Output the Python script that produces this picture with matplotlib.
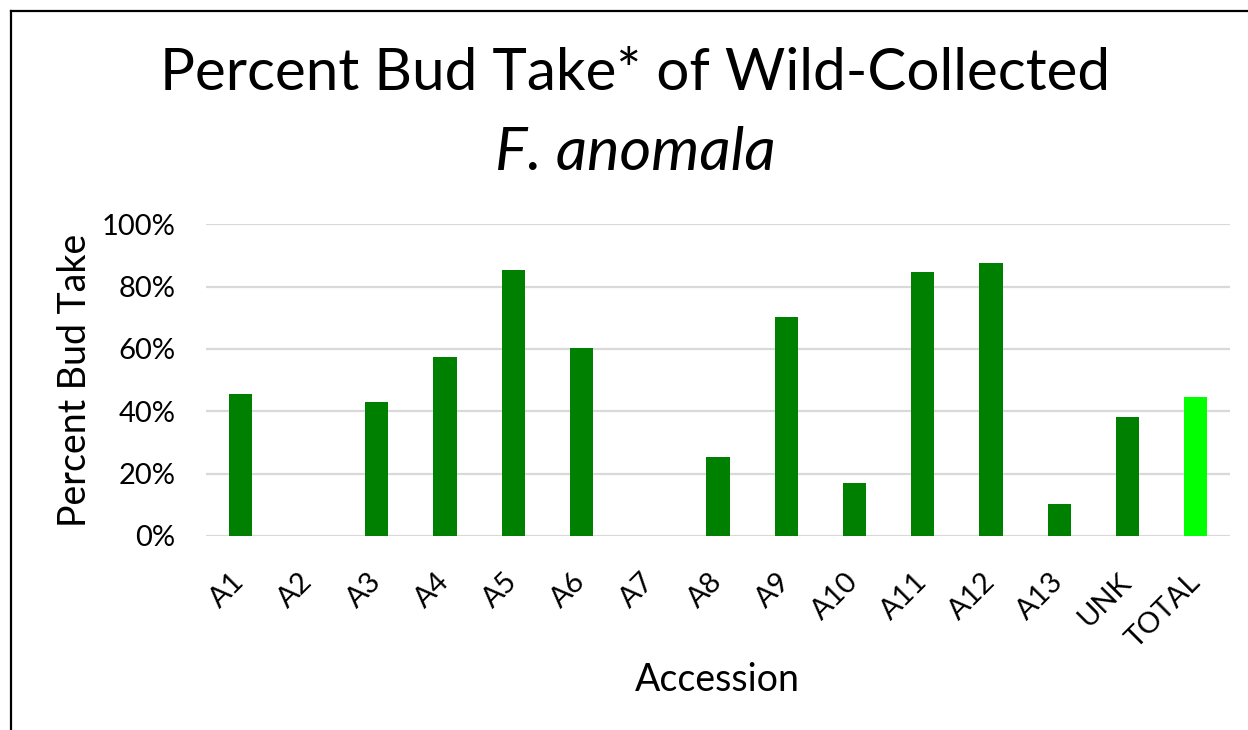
import numpy as np
import matplotlib.pyplot as plt
from matplotlib.lines import Line2D
from matplotlib.ticker import PercentFormatter

plt.rcParams['font.family'] = ['Lato', 'DejaVu Sans']

## Data
accessions = ['A1', 'A2', 'A3', 'A4', 'A5', 'A6', 'A7', 'A8', 'A9', 'A10',
              'A11', 'A12', 'A13', 'UNK', 'TOTAL']
bud_take = [0.457, 0.0, 0.431, 0.574, 0.852, 0.603, 0.0, 0.253, 0.702, 0.169,
            0.848, 0.876, 0.102, 0.382, 0.446]
bar_colors = ['#008000'] * 14 + ['#00FF00']
y_ticks = [0, 0.2, 0.4, 0.6, 0.8, 1.0]

## Figure
W, H = 1248, 730
fig = plt.figure(figsize=(W / 100, H / 100), dpi=100)
ax_left, ax_right = 206, 1230
ax = fig.add_axes([ax_left / W, 1 - 536 / H, (ax_right - ax_left) / W, (536 - 224.3) / H])

x = np.arange(len(accessions))
ax.bar(x, bud_take, width=0.34, color=bar_colors, zorder=3)

ax.set_xlim(-0.5, len(accessions) - 0.5)
ax.set_ylim(0, 1)
ax.set_yticks(y_ticks)
ax.yaxis.set_major_formatter(PercentFormatter(1.0, decimals=0))
ax.grid(axis='y', color='#D9D9D9', linewidth=1.6, zorder=0)
for s in ax.spines.values():
    s.set_visible(False)
ax.tick_params(length=0)
ax.tick_params(axis='y', labelsize=21, pad=22)
ax.set_xticks(x)
ax.set_xticklabels(accessions, rotation=45, ha='right', va='center',
                   rotation_mode='anchor', fontsize=21)
ax.tick_params(axis='x', pad=30)

ax.set_ylabel('Percent Bud Take', fontsize=27)
ax.yaxis.set_label_coords((75 - ax_left) / (ax_right - ax_left), 0.5)
ax.yaxis.label.set_va('center')
fig.text(717 / W, 1 - 680 / H, 'Accession', fontsize=27, ha='center', va='center')

## Title
fig.text(635 / W, 1 - 73 / H, 'Percent Bud Take* of Wild-Collected',
         fontsize=42, ha='center', va='center')
fig.text(635 / W, 1 - 153 / H, 'F. anomala', fontsize=44, style='italic',
         ha='center', va='center')

## Border
fig.add_artist(Line2D([11 / W, 11 / W], [1 - 11 / H, 0], transform=fig.transFigure,
                      color='black', linewidth=1.6))
fig.add_artist(Line2D([11 / W, 1], [1 - 11 / H, 1 - 11 / H], transform=fig.transFigure,
                      color='black', linewidth=1.6))

fig.savefig('out.png', dpi=100)
